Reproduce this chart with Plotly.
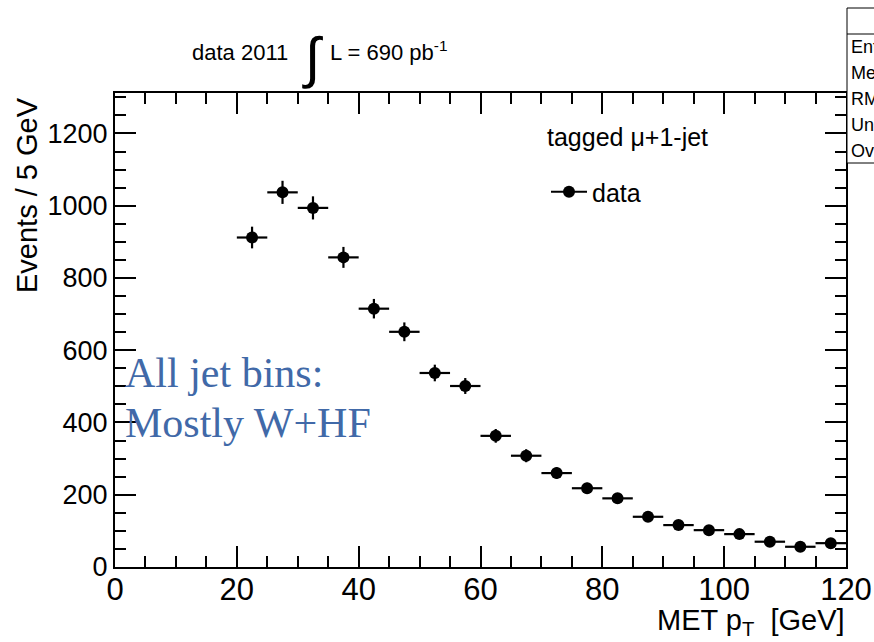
import plotly.graph_objects as go

# --- data ---
met_bin_centers = [22.5, 27.5, 32.5, 37.5, 42.5, 47.5, 52.5, 57.5, 62.5, 67.5,
                   72.5, 77.5, 82.5, 87.5, 92.5, 97.5, 102.5, 107.5, 112.5, 117.5]
events = [912, 1037, 994, 857, 715, 651, 537, 501, 363, 308,
          260, 218, 190, 139, 116, 102, 91, 70, 56, 66]
event_errors = [30, 32, 32, 29, 27, 26, 23, 22, 19, 18,
                16, 15, 14, 12, 11, 10, 10, 8, 7, 8]
bin_half_width = 2.5

x_ticks = [0, 20, 40, 60, 80, 100, 120]
y_ticks = [0, 200, 400, 600, 800, 1000, 1200]
stats_rows = ["Entries", "Mean", "RMS", "Underflow", "Overflow"]

W, H = 874, 642
L_M, R_M, T_M, B_M = 115, 28, 93, 75
SANS = "Liberation Sans, Arial, Helvetica, sans-serif"
SERIF = "Liberation Serif, Times New Roman, serif"

fig = go.Figure()
fig.add_trace(go.Scatter(
    x=met_bin_centers, y=events, mode="markers", showlegend=False,
    marker=dict(color="black", size=12, symbol="circle"),
    error_y=dict(type="data", array=event_errors, visible=True,
                 color="black", thickness=2.2, width=0),
    error_x=dict(type="constant", value=bin_half_width, visible=True,
                 color="black", thickness=2.2, width=0),
))
# legend entry
fig.add_trace(go.Scatter(
    x=[None], y=[None], mode="lines+markers", name="data",
    line=dict(color="black", width=2.2),
    marker=dict(color="black", size=12),
))

axis_common = dict(
    showgrid=False, zeroline=False, showline=True, linecolor="black",
    linewidth=2, mirror="allticks", ticks="inside", tickcolor="black",
    tickwidth=1.5, ticklen=21,
)
fig.update_xaxes(range=[0, 120], tickvals=x_ticks,
                 tickfont=dict(family=SANS, size=31, color="black"),
                 ticklabelstandoff=-6,
                 minor=dict(dtick=5, tick0=0, ticks="inside", ticklen=11,
                            tickwidth=1.5, tickcolor="black", showgrid=False),
                 **axis_common)
fig.update_yaxes(range=[0, 1312], tickvals=y_ticks,
                 tickfont=dict(family=SANS, size=27, color="black"),
                 minor=dict(dtick=50, tick0=0, ticks="inside", ticklen=11,
                            tickwidth=1.5, tickcolor="black", showgrid=False),
                 **axis_common)

plot_h = H - T_M - B_M
plot_w = W - L_M - R_M


def py(pix):  # pixel row -> paper y
    return (H - B_M - pix) / plot_h


def px(pix):  # pixel col -> paper x
    return (pix - L_M) / plot_w


ann = []
# axis titles
ann.append(dict(text="Events / 5 GeV", xref="paper", yref="paper",
                x=px(27), y=py(195), xanchor="center", yanchor="middle",
                textangle=-90, showarrow=False,
                font=dict(family=SANS, size=29, color="black")))
ann.append(dict(text="MET p<sub>T</sub>\u00a0\u00a0[GeV]", xref="paper", yref="paper",
                x=px(847), y=py(622), xanchor="right", yanchor="middle",
                showarrow=False, font=dict(family=SANS, size=29, color="black")))
# top label
ann.append(dict(text="data 2011", xref="paper", yref="paper",
                x=px(190), y=py(53), xanchor="left", yanchor="middle",
                showarrow=False, font=dict(family=SANS, size=22, color="black")))
ann.append(dict(text="\u222B", xref="paper", yref="paper",
                x=px(312), y=py(57), xanchor="center", yanchor="middle",
                showarrow=False, font=dict(family=SANS, size=56, color="black")))
ann.append(dict(text="L = 690 pb<sup>-1</sup>", xref="paper", yref="paper",
                x=px(328), y=py(51), xanchor="left", yanchor="middle",
                showarrow=False, font=dict(family=SANS, size=22, color="black")))
# legend header
ann.append(dict(text="tagged \u03BC+1-jet", xref="paper", yref="paper",
                x=px(545), y=py(137), xanchor="left", yanchor="middle",
                showarrow=False, font=dict(family=SANS, size=25, color="black")))
# blue comment
ann.append(dict(text="All jet bins:", xref="x", yref="paper",
                x=1.3, y=py(373), xanchor="left", yanchor="middle",
                showarrow=False, font=dict(family=SERIF, size=42, color="#4169a8")))
ann.append(dict(text="Mostly W+HF", xref="x", yref="paper",
                x=1.3, y=py(423), xanchor="left", yanchor="middle",
                showarrow=False, font=dict(family=SERIF, size=42, color="#4169a8")))
# stats box rows
for i, row in enumerate(stats_rows):
    ann.append(dict(text=row, xref="paper", yref="paper",
                    x=px(849), y=py(47 + 26 * i), xanchor="left", yanchor="middle",
                    showarrow=False, font=dict(family=SANS, size=18, color="black")))

shapes = [
    dict(type="rect", xref="paper", yref="paper", xsizemode="pixel", ysizemode="pixel",
         xanchor=1, yanchor=1, x0=1, x1=60, y0=93 - 163, y1=93 - 8,
         line=dict(color="black", width=1), fillcolor="white", layer="above"),
    dict(type="line", xref="paper", yref="paper", xsizemode="pixel", ysizemode="pixel",
         xanchor=1, yanchor=1, x0=1, x1=60, y0=93 - 34, y1=93 - 34,
         line=dict(color="black", width=1)),
]

fig.update_layout(
    width=W, height=H, margin=dict(l=L_M, r=R_M, t=T_M, b=B_M, autoexpand=False),
    paper_bgcolor="white", plot_bgcolor="white",
    annotations=ann, shapes=shapes,
    legend=dict(x=px(546), y=py(192), xanchor="left", yanchor="middle",
                bgcolor="rgba(0,0,0,0)", borderwidth=0, itemwidth=36,
                font=dict(family=SANS, size=25, color="black")),
)

fig.write_html("out.html")
